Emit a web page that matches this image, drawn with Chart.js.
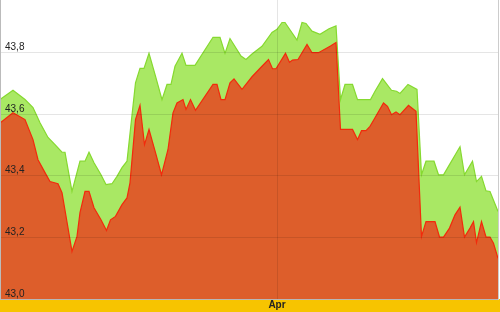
<!DOCTYPE html>
<html>
<head>
<meta charset="utf-8">
<script src="https://cdn.jsdelivr.net/npm/chart.js@4"></script>
<style>
    body { margin: 0; background: #fff; }
</style>
</head>
<body>
<canvas id="chart-area" width="500" height="312"></canvas>
<script>
// trading days from the left edge of the chart, and the price at that day
const highDays = [0, 2.6, 5, 6.6, 8, 9.6, 11, 12.4, 13, 14.4, 16, 17, 17.8, 18.8, 20.2, 21.2, 22.4, 23.4, 24.4, 25.4,
    27.1, 28, 28.8, 29.8, 31.1, 32.4, 33.4, 34.2, 35, 36.4, 37.2, 39, 42.6, 44, 45, 46, 48.2, 49.2, 50.4, 52.4,
    54.4, 55.4, 56.4, 57, 59.4, 60.4, 61.2, 62.4, 64, 65.8, 67.2, 68.1, 69, 70.5, 71.5, 74.1, 75, 76.5, 78.3, 79.3,
    80, 81.6, 83.4, 84.3, 85.2, 86.8, 87.7, 88.7, 89.9, 91.2, 92, 92.9, 94.5, 95.3, 96.3, 97.2, 98, 99.6];
const highValues = [43.647, 43.677, 43.647, 43.621, 43.572, 43.524, 43.501, 43.476, 43.476, 43.349, 43.447, 43.447, 43.476, 43.442, 43.403, 43.371, 43.374, 43.398, 43.426, 43.447,
    43.701, 43.748, 43.748, 43.797, 43.723, 43.647, 43.696, 43.696, 43.755, 43.797, 43.758, 43.758, 43.849, 43.849, 43.797, 43.845, 43.788, 43.777, 43.795, 43.82,
    43.865, 43.875, 43.897, 43.897, 43.84, 43.897, 43.894, 43.869, 43.859, 43.877, 43.886, 43.647, 43.696, 43.696, 43.647, 43.647, 43.674, 43.715, 43.677, 43.674,
    43.667, 43.696, 43.68, 43.403, 43.447, 43.447, 43.403, 43.403, 43.436, 43.472, 43.494, 43.403, 43.447, 43.381, 43.398, 43.351, 43.349, 43.284];

const lowDays = [0, 2.6, 5, 6.6, 7.6, 9, 10, 11.6, 12.4, 13.6, 14.4, 15.4, 16, 17, 17.8, 18.8, 20.2, 21.3, 22.1, 23.1,
    24.4, 25.4, 26, 27.1, 28, 28.9, 29.8, 31.1, 32.3, 33.6, 34.6, 35.4, 36.6, 37.2, 38.1, 39.1, 42.6, 43.4, 44.2, 45,
    46, 46.8, 48.4, 50.4, 52.4, 53.7, 54.5, 55.2, 57.1, 57.9, 58.5, 59.6, 61.4, 62.4, 63.7, 66.1, 67.2, 68.1, 70.5, 71.5,
    72.3, 73.2, 74, 75, 76.7, 77.5, 78.3, 79.2, 80, 81.7, 83.2, 84.3, 85.2, 87, 87.9, 88.7, 89.9, 91, 92, 92.9,
    94, 94.7, 95.3, 96.3, 97.2, 98, 98.7, 99.6];
const lowValues = [43.571, 43.604, 43.582, 43.517, 43.452, 43.41, 43.381, 43.374, 43.345, 43.231, 43.154, 43.203, 43.28, 43.349, 43.349, 43.296, 43.257, 43.222, 43.257, 43.268,
    43.306, 43.328, 43.377, 43.582, 43.628, 43.501, 43.55, 43.475, 43.403, 43.485, 43.604, 43.636, 43.647, 43.615, 43.647, 43.612, 43.696, 43.696, 43.647, 43.647,
    43.701, 43.714, 43.68, 43.721, 43.755, 43.777, 43.747, 43.747, 43.797, 43.768, 43.775, 43.777, 43.826, 43.799, 43.799, 43.821, 43.832, 43.55, 43.55, 43.517,
    43.546, 43.546, 43.56, 43.588, 43.636, 43.625, 43.598, 43.607, 43.598, 43.628, 43.609, 43.203, 43.251, 43.251, 43.201, 43.201, 43.23, 43.273, 43.298, 43.201,
    43.23, 43.251, 43.183, 43.251, 43.201, 43.201, 43.181, 43.132];

const monthLabels = ['Apr'];
const monthDays = [55.4];

const yMin = 43.0;
const yMax = 43.97;
const yStep = 0.2;
const xMax = 99.6;

function toPoints(days, values) {
    return days.map((d, i) => ({ x: d, y: values[i] }));
}

// yellow band under the plot and the thin right border
const framePlugin = {
    id: 'frame',
    beforeDraw(chart) {
        const { ctx, chartArea, width, height } = chart;
        ctx.save();
        ctx.fillStyle = '#F7C400';
        ctx.fillRect(0, chartArea.bottom, width, height - chartArea.bottom);
        ctx.restore();
    },
    afterDraw(chart) {
        const { ctx, chartArea } = chart;
        ctx.save();
        ctx.strokeStyle = '#CCCCCC';
        ctx.lineWidth = 1;
        ctx.beginPath();
        ctx.moveTo(chartArea.right + 0.5, chartArea.top);
        ctx.lineTo(chartArea.right + 0.5, chartArea.bottom);
        ctx.stroke();
        ctx.restore();
    }
};

const chart = new Chart(document.getElementById('chart-area'), {
    type: 'line',
    data: {
        datasets: [{
            label: 'Low',
            data: toPoints(lowDays, lowValues),
            borderColor: '#F22A0C',
            backgroundColor: '#DD5E2B',
            borderWidth: 1.2,
            fill: 'start',
            pointRadius: 0,
            tension: 0
        }, {
            label: 'High',
            data: toPoints(highDays, highValues),
            borderColor: '#86D930',
            backgroundColor: '#A9E864',
            borderWidth: 1.2,
            fill: 'start',
            pointRadius: 0,
            tension: 0
        }]
    },
    options: {
        responsive: false,
        animation: false,
        layout: { padding: { left: 0, right: 2, top: 0, bottom: 0 } },
        plugins: {
            legend: { display: false },
            tooltip: { enabled: false }
        },
        scales: {
            x: {
                type: 'linear',
                min: 0,
                max: xMax,
                afterBuildTicks: axis => {
                    axis.ticks = monthDays.map(v => ({ value: v }));
                },
                afterFit: axis => {
                    axis.paddingLeft = 0;
                    axis.paddingRight = 0;
                },
                ticks: {
                    z: 1,
                    padding: 0,
                    maxRotation: 0,
                    color: '#222222',
                    font: { family: 'Liberation Sans', size: 10, weight: 'bold', lineHeight: 1.3 },
                    callback: value => monthLabels[monthDays.indexOf(value)] || ''
                },
                grid: {
                    z: 1,
                    color: 'rgba(0, 0, 0, 0.1)',
                    drawTicks: false
                },
                border: { z: 1, color: '#CCCCCC' }
            },
            y: {
                min: yMin,
                max: yMax,
                afterBuildTicks: axis => {
                    axis.ticks = axis.ticks.filter(t => Math.abs((t.value - yMin) / yStep - Math.round((t.value - yMin) / yStep)) < 0.001);
                },
                afterFit: axis => {
                    axis.width = 0;
                    axis.paddingTop = 0;
                    axis.paddingBottom = 0;
                },
                ticks: {
                    z: 1,
                    stepSize: yStep,
                    mirror: true,
                    padding: 5,
                    labelOffset: -5,
                    color: '#222222',
                    font: { family: 'Liberation Sans', size: 10 },
                    callback: value => value.toFixed(1).replace('.', ',')
                },
                grid: {
                    z: 1,
                    color: 'rgba(0, 0, 0, 0.1)',
                    drawTicks: false
                },
                border: { z: 1, color: '#BBBBBB' }
            }
        }
    },
    plugins: [framePlugin]
});
</script>
</body>
</html>
